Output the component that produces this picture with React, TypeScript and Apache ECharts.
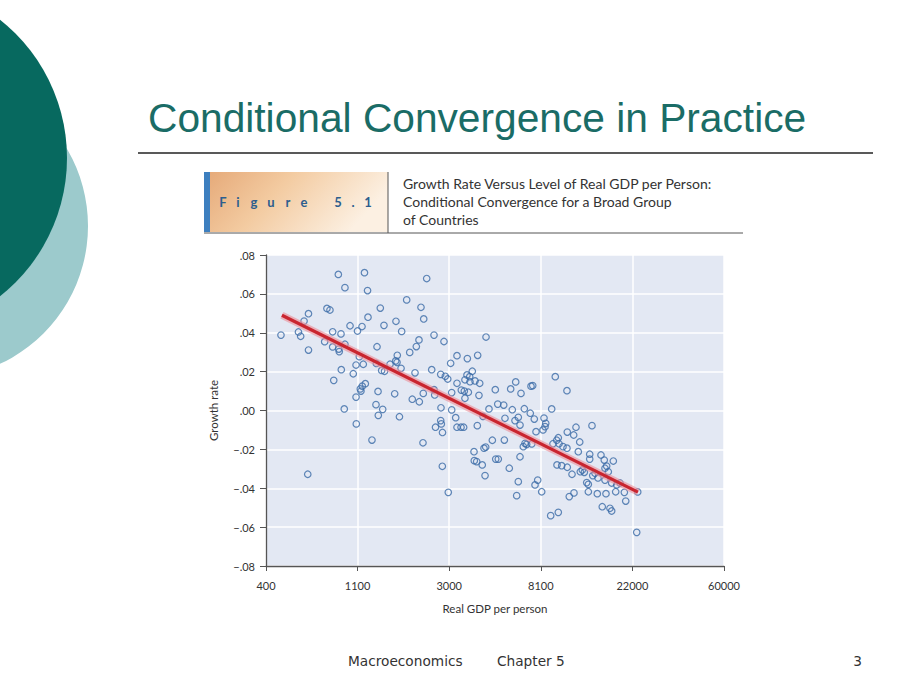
import React, { useEffect, useRef } from "react";
import * as echarts from "echarts";

// ---- Data ----
const GDP = [
  471, 570, 584, 636, 636, 606, 778, 804, 881, 947, 1172, 1212, 1001, 1141, 1086, 1218, 828, 907, 759, 828,
  885, 890, 947, 1108, 1069, 1157, 910, 1037, 838, 1183, 1144, 1120, 1128, 1069, 940, 1072, 1272, 631,
  2312, 1858, 1393, 2172, 1653, 1450, 2238, 1759, 2504, 2792, 2125, 2064, 1921, 1344, 3218, 3003, 1677, 1648,
  1672, 1549, 1414, 1459, 1747, 2035, 2442, 2694, 2832, 2909, 1359, 1630, 2227, 1975, 2133, 2504, 2523, 3037,
  3218, 3373, 1329, 1430, 1363, 1717, 2702, 3037, 3173, 3218, 3363, 3461, 2694, 2712, 2545, 2747, 2220, 2742,
  2926, 1334,
  4418, 3603, 4033, 3803, 3589, 3697, 3510, 3709, 3918, 4124, 3486, 3643, 3510, 4090, 4888, 6109, 5782, 7219,
  7356, 6472, 5021, 5360, 5886, 6711, 7162, 7483, 8320, 9048, 4017, 4274, 4563, 5434, 6061, 6284, 6403, 7626,
  8231, 8414, 8479, 7277, 6888, 6637, 6763, 4733, 5396, 3875, 3887, 3990, 4322, 4402, 4240, 4912, 5052, 6403,
  5695, 4371, 6284, 7543, 7768, 8114, 6175, 8950,
  9410, 10690, 9725, 9561, 9802, 9177, 10236, 10690, 10727, 11505, 11797, 12288, 14049, 12098, 9589, 10092,
  10727, 11296, 12365, 12920, 12640, 13705, 13705, 15497, 16064, 17730, 16489, 16191, 16786, 14520, 14165,
  13264, 13500, 13500, 14887, 16368, 16191, 17415, 18399, 19074, 18198, 20000, 20305, 15717, 17097, 17415,
  10963, 11541, 9725, 23143, 22892, 15000,
];
const GROWTH = [
  0.0388, 0.0404, 0.0382, 0.0311, 0.0498, 0.046, 0.0525, 0.0517, 0.07, 0.0632, 0.0709, 0.0617, 0.0436, 0.0432,
  0.0409, 0.048, 0.0405, 0.0394, 0.0354, 0.0327, 0.0316, 0.0303, 0.0341, 0.0277, 0.0234, 0.0238, 0.021, 0.0189,
  0.0155, 0.0138, 0.0125, 0.0111, 0.01, 0.0069, 0.0008, -0.0069, -0.0152, -0.0328,
  0.0679, 0.0569, 0.0527, 0.0531, 0.0459, 0.0438, 0.0471, 0.0407, 0.0388, 0.0355, 0.0363, 0.0329, 0.0299, 0.0328,
  0.0282, 0.0243, 0.0284, 0.0255, 0.0248, 0.0238, 0.0206, 0.0202, 0.0217, 0.0194, 0.021, 0.0186, 0.0176, 0.0162,
  0.0098, 0.0086, 0.0088, 0.0058, 0.0045, 0.0107, 0.008, 0.0092, 0.014, 0.0105, 0.003, 0.0006, -0.0025, -0.0032,
  0.0014, 0.0003, -0.0037, -0.0086, -0.0086, -0.0086, -0.0052, -0.0069, -0.0086, -0.0113, -0.0166, -0.0287,
  -0.0421, 0.0242,
  0.0378, 0.0267, 0.0284, 0.0202, 0.0183, 0.0174, 0.0158, 0.0148, 0.0152, 0.014, 0.01, 0.0094, 0.0063, 0.0078,
  0.0107, 0.0147, 0.0111, 0.0125, 0.0128, 0.0088, 0.0033, 0.0028, 0.0004, 0.0009, -0.0014, -0.0044, -0.0039,
  0.0008, -0.0078, -0.003, 0.0008, -0.004, -0.0052, -0.0035, -0.0075, -0.0109, -0.01, -0.0083, -0.0066, -0.0172,
  -0.0174, -0.0186, -0.0169, -0.0153, -0.0152, -0.0212, -0.0258, -0.0263, -0.0194, -0.0188, -0.028, -0.025,
  -0.025, -0.0238, -0.0297, -0.0335, -0.0366, -0.0383, -0.0358, -0.0418, -0.0438, -0.0541,
  0.0174, 0.0102, -0.014, -0.0153, -0.0171, -0.0171, -0.0186, -0.0194, -0.0111, -0.0126, -0.0086, -0.0162,
  -0.0078, -0.0212, -0.028, -0.0284, -0.0292, -0.0328, -0.0315, -0.0318, -0.0306, -0.0225, -0.025, -0.0229,
  -0.0255, -0.026, -0.0286, -0.0297, -0.0315, -0.0323, -0.0335, -0.0371, -0.038, -0.0418, -0.0428, -0.0428,
  -0.0358, -0.0373, -0.0383, -0.0373, -0.0418, -0.0421, -0.0466, -0.0495, -0.0503, -0.0517, -0.0443, -0.0424,
  -0.0524, -0.0419, -0.0627, -0.0347,
];
const FIT_GDP = [476, 23200];
const FIT_GROWTH = [0.049, -0.042];

const X_TICK_LABELS = ["400", "1100", "3000", "8100", "22000", "60000"];
const X_BASE = 400;
const Y_TICK_LABELS = ["\u2212.08", "\u2212.06", "\u2212.04", "\u2212.02", ".00", ".02", ".04", ".06", ".08"];

const TITLE = "Conditional Convergence in Practice";
const FIG_LABEL = "Figure5.1";
const HEADER_LINES = [
  "Growth Rate Versus Level of Real GDP per Person:",
  "Conditional Convergence for a Broad Group",
  "of Countries",
];
const X_NAME = "Real GDP per person";
const Y_NAME = "Growth rate";
const FOOTER_LEFT = "Macroeconomics";
const FOOTER_MID = "Chapter 5";
const FOOTER_PAGE = "3";

const lx = (g: number) => Math.log(g / X_BASE);

export default function App() {
  const ref = useRef<HTMLDivElement>(null);
  useEffect(() => {
    document.body.style.margin = "0";
    if (!ref.current) return;
    const chart = echarts.init(ref.current, null, { renderer: "svg" });
    const points = GDP.map((g, i) => [lx(g), GROWTH[i]]);
    const fit = FIT_GDP.map((g, i) => [lx(g), FIT_GROWTH[i]]);
    const figX = [223, 238, 254, 271, 288, 304, 338, 353, 368];
    const labelFont = "Lato";

    const graphic: any[] = [
      { type: "circle", shape: { cx: -64, cy: 226, r: 152 }, style: { fill: "#9ccacc" }, z: 1 },
      { type: "circle", shape: { cx: -109, cy: 158, r: 176 }, style: { fill: "#07695f" }, z: 2 },
      {
        type: "text", x: 148, y: 118, z: 3,
        style: { text: TITLE, fill: "#1a6c66", fontSize: 40.7, fontFamily: "Liberation Sans, Arial", align: "left", verticalAlign: "middle" },
      },
      { type: "line", shape: { x1: 138, y1: 153, x2: 873, y2: 153 }, style: { stroke: "#222", lineWidth: 1.3 }, z: 3 },
      {
        type: "rect", shape: { x: 204, y: 172, width: 184, height: 60 }, z: 3,
        style: {
          fill: new echarts.graphic.LinearGradient(0, 0, 1, 0.3, [
            { offset: 0, color: "#e5a877" },
            { offset: 0.45, color: "#f3cba1" },
            { offset: 1, color: "#fcf0e2" },
          ]),
        },
      },
      { type: "rect", shape: { x: 204, y: 172, width: 6, height: 60 }, style: { fill: "#3d7fbf" }, z: 4 },
      { type: "line", shape: { x1: 388, y1: 172, x2: 388, y2: 233 }, style: { stroke: "#555", lineWidth: 1 }, z: 4 },
      { type: "line", shape: { x1: 204, y1: 233, x2: 743, y2: 233 }, style: { stroke: "#555", lineWidth: 1 }, z: 4 },
      ...FIG_LABEL.split("").map((c, i) => ({
        type: "text", x: figX[i], y: 202, z: 5,
        style: { text: c, fill: "#2c5e8e", fontSize: 13, fontWeight: "bold", fontFamily: labelFont, align: "center", verticalAlign: "middle" },
      })),
      ...HEADER_LINES.map((t, i) => ({
        type: "text", x: 403, y: 183 + i * 18, z: 5,
        style: { text: t, fill: "#333", fontSize: 14, fontFamily: labelFont, align: "left", verticalAlign: "middle" },
      })),
      {
        type: "text", x: 348, y: 661, z: 5,
        style: { text: FOOTER_LEFT, fill: "#333", fontSize: 13.7, fontFamily: "DejaVu Sans", align: "left", verticalAlign: "middle" },
      },
      {
        type: "text", x: 497, y: 661, z: 5,
        style: { text: FOOTER_MID, fill: "#333", fontSize: 13.7, fontFamily: "DejaVu Sans", align: "left", verticalAlign: "middle" },
      },
      {
        type: "text", x: 862, y: 661, z: 5,
        style: { text: FOOTER_PAGE, fill: "#333", fontSize: 13.7, fontFamily: "DejaVu Sans", align: "right", verticalAlign: "middle" },
      },
    ];

    chart.setOption({
      animation: false,
      backgroundColor: "#ffffff",
      grid: {
        left: 266, right: 196, top: 255, bottom: 124,
        show: true, backgroundColor: "#e3e8f3", borderWidth: 0,
      },
      xAxis: {
        type: "value", min: 0, max: 5, interval: 1,
        name: X_NAME, nameLocation: "middle", nameGap: 36,
        nameTextStyle: { fontFamily: labelFont, fontSize: 11.5, color: "#333" },
        axisLine: { onZero: false, lineStyle: { color: "#555", width: 1.3 } },
        axisTick: { show: true, length: 5, lineStyle: { color: "#555" } },
        axisLabel: {
          margin: 14, fontFamily: labelFont, fontSize: 11, color: "#333",
          formatter: (v: number) => X_TICK_LABELS[Math.round(v)] ?? "",
        },
        splitLine: { show: true, lineStyle: { color: "#ffffff", width: 1.5 } },
      },
      yAxis: {
        type: "value", min: -0.08, max: 0.08, interval: 0.02,
        name: Y_NAME, nameLocation: "middle", nameGap: 47,
        nameTextStyle: { fontFamily: labelFont, fontSize: 11.5, color: "#333" },
        axisLine: { show: true, onZero: false, lineStyle: { color: "#555", width: 1.3 } },
        axisTick: { show: true, length: 6, lineStyle: { color: "#555" } },
        axisLabel: {
          margin: 11, fontFamily: labelFont, fontSize: 11, color: "#333",
          formatter: (v: number) => Y_TICK_LABELS[Math.round((v + 0.08) / 0.02)] ?? "",
        },
        splitLine: { show: true, lineStyle: { color: "#ffffff", width: 1.5 } },
      },
      series: [
        {
          type: "scatter", data: points, symbol: "circle", symbolSize: 6.5, z: 2,
          itemStyle: { color: "rgba(0,0,0,0)", borderColor: "#3a6aa6", borderWidth: 1.2 },
        },
        {
          type: "line", data: fit, showSymbol: false, z: 3,
          lineStyle: { color: "rgba(236,140,150,0.6)", width: 7 },
        },
        {
          type: "line", data: fit, showSymbol: false, z: 4,
          lineStyle: { color: "#c9252f", width: 3.2 },
        },
      ],
      graphic,
    });
    return () => chart.dispose();
  }, []);
  return <div ref={ref} style={{ width: 920, height: 690 }} />;
}
